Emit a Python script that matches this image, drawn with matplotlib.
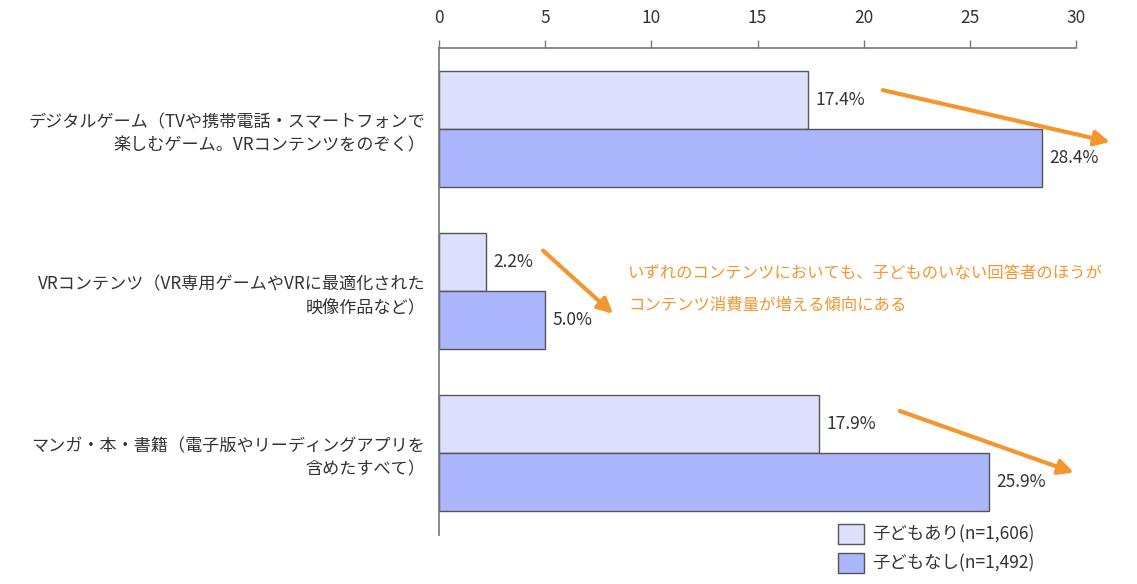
import matplotlib
matplotlib.use("Agg")
import matplotlib.pyplot as plt
import numpy as np

plt.rcParams["font.family"] = ["Noto Sans CJK JP", "DejaVu Sans"]

categories = [
    "デジタルゲーム（TVや携帯電話・スマートフォンで\n楽しむゲーム。VRコンテンツをのぞく）",
    "VRコンテンツ（VR専用ゲームやVRに最適化された\n映像作品など）",
    "マンガ・本・書籍（電子版やリーディングアプリを\n含めたすべて）",
]
with_children = [17.4, 2.2, 17.9]
without_children = [28.4, 5.0, 25.9]
series_labels = ["子どもあり(n=1,606)", "子どもなし(n=1,492)"]
xticks = [0, 5, 10, 15, 20, 25, 30]
note = "いずれのコンテンツにおいても、子どものいない回答者のほうが\nコンテンツ消費量が増える傾向にある"
# arrow start/end in data units (x value, y position)
arrows = [
    ((20.9, -0.24), (31.6, 0.08)),
    ((4.9, 0.75), (8.2, 1.14)),
    ((21.7, 1.74), (29.9, 2.12)),
]

light = "#dde0fc"
dark = "#abb6fd"
edge = "#555555"
orange = "#f3962f"
text_col = "#333333"

fig = plt.figure(figsize=(11.37, 5.84), dpi=100)
ax = fig.add_axes([439 / 1137, 1 - 535 / 584, 637 / 1137, 487 / 584])

y = np.arange(len(categories))
h = 0.356
ax.barh(y - h / 2, with_children, height=h, color=light, edgecolor=edge,
        linewidth=1.0, label=series_labels[0])
ax.barh(y + h / 2, without_children, height=h, color=dark, edgecolor=edge,
        linewidth=1.0, label=series_labels[1])

for yi, v in zip(y - h / 2, with_children):
    ax.text(v + 0.35, yi, f"{v:.1f}%", va="center", ha="left", fontsize=12.5, color=text_col)
for yi, v in zip(y + h / 2, without_children):
    ax.text(v + 0.35, yi, f"{v:.1f}%", va="center", ha="left", fontsize=12.5, color=text_col)

for (x0, y0), (x1, y1) in arrows:
    ax.annotate("", xy=(x1, y1), xytext=(x0, y0), annotation_clip=False,
                arrowprops=dict(arrowstyle="-|>,head_length=0.9,head_width=0.45",
                                color=orange, lw=3, shrinkA=0, shrinkB=0))

ax.text(8.9, 0.99, note, ha="left", va="center", fontsize=11.8, color=orange,
        linespacing=2.1)

ax.set_xlim(0, 30)
ax.set_ylim(2.505, -0.50)
ax.set_xticks(xticks)
ax.xaxis.tick_top()
ax.tick_params(axis="x", direction="out", length=6, width=1, color="#777777",
               labelsize=12.5, labelcolor=text_col, pad=9)
ax.set_yticks(y)
ax.set_yticklabels(categories, fontsize=12.3, color=text_col, ha="right",
                   multialignment="right", linespacing=1.4)
ax.tick_params(axis="y", length=0, pad=10)

for side in ["right", "bottom"]:
    ax.spines[side].set_visible(False)
ax.spines["top"].set_color("#777777")
ax.spines["left"].set_color("#777777")
ax.spines["top"].set_linewidth(1.2)
ax.spines["left"].set_linewidth(1.2)

ax.legend(loc="upper left", bbox_to_anchor=(0.612, 0.04), frameon=False,
          fontsize=12.5, handlelength=1.5, handleheight=1.35, handletextpad=0.5,
          labelspacing=0.55, borderpad=0, labelcolor=text_col)

plt.savefig("out.png", dpi=100)
